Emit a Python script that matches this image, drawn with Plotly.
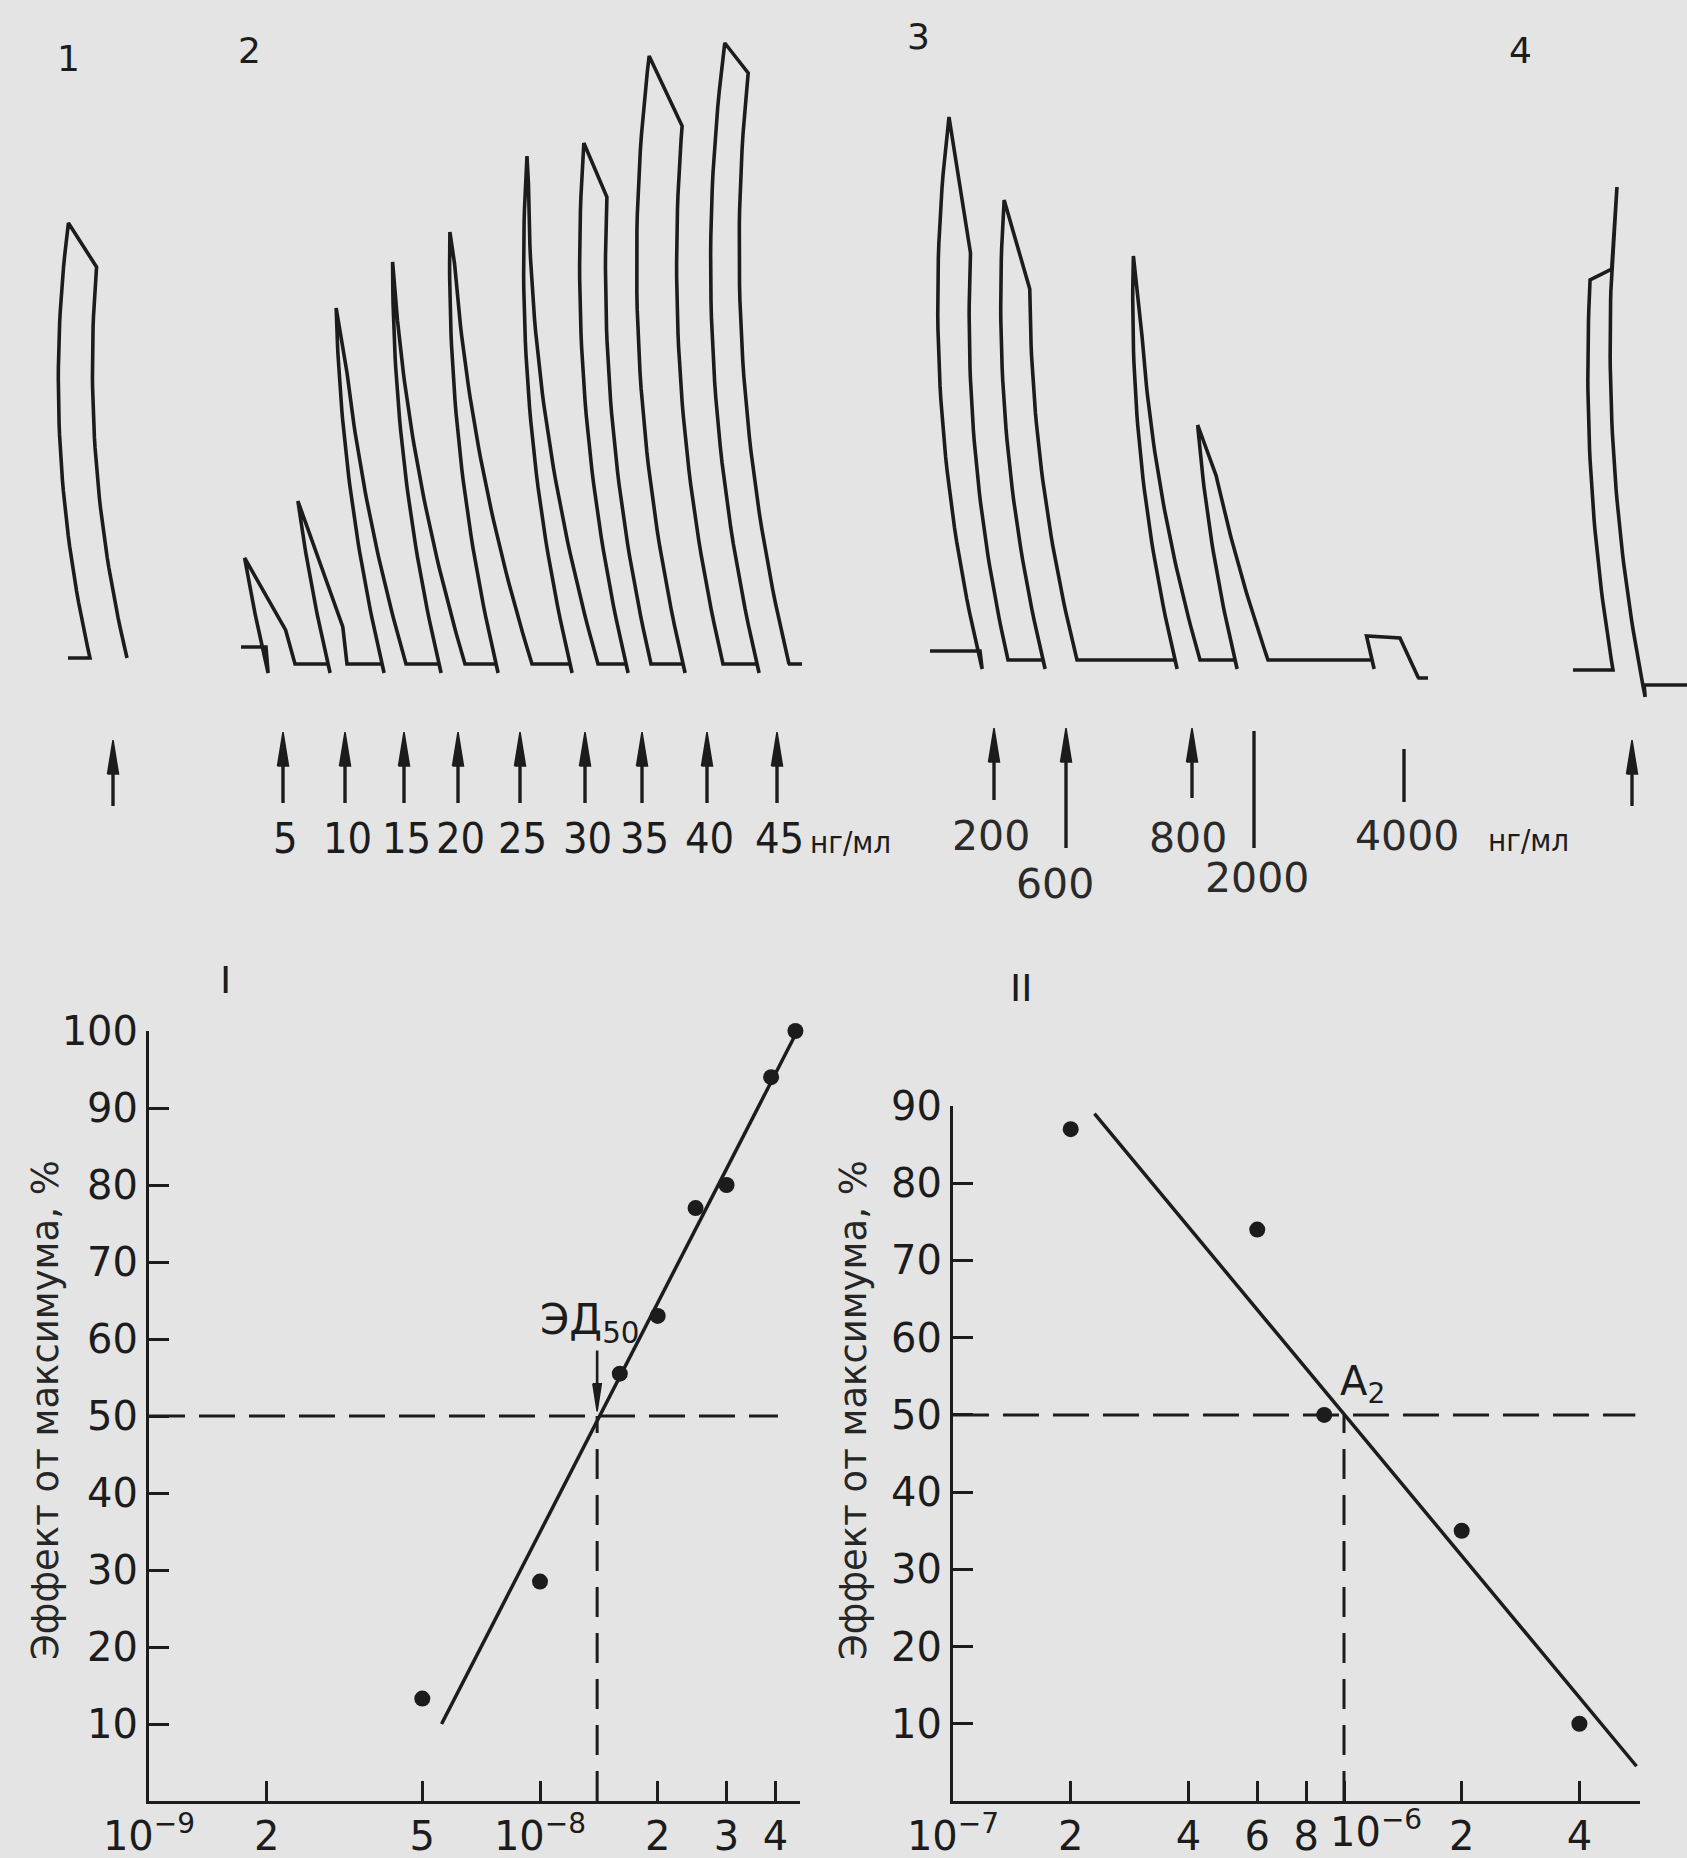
import numpy as np
import plotly.graph_objects as go

W, H = 1687, 1858
BG = "#e4e4e4"
INK = "#1c1c1c"

# ---------------- DATA ----------------
# Kymogram records (drum position / pen deflection, arbitrary drum units)
# series 1 (control)
s1_start = [90]
s1_rise = [435]
s1_shoulder = [391]
s1_spike = [None]
s1_wtop = [33]
s1_width = [37]
s1_inject = [113]

# series 2 : agonist 5..45 ng/ml
s2_doses = [5, 10, 15, 20, 25, 30, 35, 40, 45]
s2_start = [266, 328, 382, 439, 496, 570, 626, 683, 757]
s2_rise = [106, 163, 356, 402, 432, 508, 521, 608, 621]
s2_shoulder = [37, 37, 291, 343, 400, 480, 467, 538, 591]
s2_spike = [None] * 9
s2_wtop = [27, 23, 8, 4, 5, 3, 26, 40, 27]
s2_width = [29, 19, 24, 26, 36, 28, 25, 40, 32]
s2_inject = [283, 345, 404, 458, 520, 585, 642, 707, 777]

# series 3 : antagonist 200..4000 ng/ml
s3_doses = [200, 600, 800, 2000, 4000]
s3_start = [980, 1043, 1175, 1235, 1372]
s3_rise = [543, 460, 404, 235, 24]
s3_shoulder = [407, 371, 323, 189, 22]
s3_spike = [None] * 5
s3_wtop = [32, 29, 9, 13, 33]
s3_width = [28, 34, 25, 33, 38]
s3_inject = [994, 1066, 1192, 1254, 1404]

# series 4 (control after washing)
s4_start = [1613]
s4_rise = [390]
s4_shoulder = [401]
s4_spike = [483]
s4_wtop = [21]
s4_width = [27]
s4_inject = [1632]

# Panel I : dose-effect curve
I_conc = [5e-9, 1.0e-8, 1.6e-8, 2.0e-8, 2.5e-8, 3.0e-8, 3.9e-8, 4.5e-8]
I_eff = [13.3, 28.5, 55.5, 63, 77, 80, 94, 100]
I_fit_x = [5.6e-9, 4.55e-8]
I_fit_y = [10, 100]
ED50 = 1.4e-8
I_xticks = [1e-9, 2e-9, 5e-9, 1e-8, 2e-8, 3e-8, 4e-8]
I_xtext = ["10<sup>−9</sup>", "2", "5", "10<sup>−8</sup>", "2", "3", "4"]
I_yticks = [10, 20, 30, 40, 50, 60, 70, 80, 90, 100]

# Panel II : antagonist curve
II_conc = [2e-7, 6e-7, 8.9e-7, 2e-6, 4e-6]
II_eff = [87, 74, 50, 35, 10]
II_fit_x = [2.3e-7, 5.6e-6]
II_fit_y = [89, 4.5]
A2 = 1.0e-6
II_xticks = [1e-7, 2e-7, 4e-7, 6e-7, 8e-7, 1e-6, 2e-6, 4e-6]
II_xtext = ["10<sup>−7</sup>", "2", "4", "6", "8", " ", "2", "4"]
II_decade_label = "10<sup>−6</sup>"   # drawn just right of its tick (as in the original)
II_yticks = [10, 20, 30, 40, 50, 60, 70, 80, 90]

YTITLE = "Эффект от максимума, %"

# ---------------- helpers ----------------
def pen_dx(h, k, hc):
    return k * h * (h - 2 * hc)


def series_path(starts, rises, shoulders, spikes, wtops, widths, k, hc, y0,
                tick, lead_x, lead_h, tail_x, tail_dip, tail_h):
    xs, ys = [lead_x], [y0 - lead_h]
    n = len(starts)
    for i in range(n):
        x0 = starts[i]
        R, S, P, wt, wb = rises[i], shoulders[i], spikes[i], wtops[i], widths[i]
        lvl = lead_h if i == 0 else 0
        xs.append(x0); ys.append(y0 - lvl)
        hh = np.linspace(-tick, R, 40)
        xs += list(x0 + pen_dx(hh, k, hc)); ys += list(y0 - hh)

        def fall_x(h):
            off = wb + (wt - wb) * (np.asarray(h) / S)
            return x0 + off + pen_dx(np.asarray(h), k, hc)

        xs.append(float(fall_x(S))); ys.append(y0 - S)
        if P is not None:
            xs += [float(fall_x(P)), float(fall_x(S))]
            ys += [y0 - P, y0 - S]
        end_h = tail_dip if (i == n - 1 and tail_dip is not None) else 0
        hh = np.linspace(S, end_h, 40)
        xs += list(fall_x(hh)); ys += list(y0 - hh)
    if tail_x is not None:
        xe = xs[-1]
        xs += [xe - 1, tail_x]; ys += [y0 - tail_h, y0 - tail_h]
    return xs, ys


fig = go.Figure()

# ---- kymogram (canvas axes x / y) ----
series = [
    (s1_start, s1_rise, s1_shoulder, s1_spike, s1_wtop, s1_width, 4.1e-4, 278, 658, 0, 68, 0, None, None, 0),
    (s2_start, s2_rise, s2_shoulder, s2_spike, s2_wtop, s2_width, 2.9e-4, 400, 664, 9, 241, 17, 802, None, 0),
    (s3_start, s3_rise, s3_shoulder, s3_spike, s3_wtop, s3_width, 3.3e-4, 358, 660, 9, 930, 9, 1428, -18, -18),
    (s4_start, s4_rise, s4_shoulder, s4_spike, s4_wtop, s4_width, 2.8e-4, 300, 670, 0, 1573, 0, 1687, -27, -15),
]
for s in series:
    xs, ys = series_path(*s)
    fig.add_trace(go.Scatter(x=xs, y=ys, mode="lines", xaxis="x", yaxis="y",
                             line=dict(color=INK, width=3.6), hoverinfo="skip",
                             showlegend=False))

# injection markers (arrows)
arrows = []  # (x, top, bottom, head)
for xi in s1_inject:
    arrows.append((xi, 740, 806, True))
for xi in s2_inject:
    arrows.append((xi, 732, 803, True))
s3_top = [728, 728, 728, 731, 749]
s3_bot = [800, 848, 798, 848, 802]
s3_head = [True, True, True, False, False]
for xi, t, b, hd in zip(s3_inject, s3_top, s3_bot, s3_head):
    arrows.append((xi, t, b, hd))
for xi in s4_inject:
    arrows.append((xi, 740, 806, True))

lx, ly = [], []
hx, hy = [], []
for xi, t, b, hd in arrows:
    lx += [xi, xi, None]; ly += [t + (10 if hd else 0), b, None]
    if hd:
        hx += [xi - 5.5, xi, xi + 5.5, xi - 5.5, None]
        hy += [t + 34, t, t + 34, t + 34, None]
fig.add_trace(go.Scatter(x=lx, y=ly, mode="lines", xaxis="x", yaxis="y",
                         line=dict(color=INK, width=3.4), hoverinfo="skip", showlegend=False))
fig.add_trace(go.Scatter(x=hx, y=hy, mode="lines", xaxis="x", yaxis="y", fill="toself",
                         fillcolor=INK, line=dict(color=INK, width=1.5),
                         hoverinfo="skip", showlegend=False))

ann = []
NARROW = "Liberation Sans Narrow, DejaVu Sans Condensed, Liberation Sans, sans-serif"
for d, xi in zip(s2_doses, s2_inject):
    ann.append(dict(x=xi + 2, y=838, xref="x", yref="y", text=str(d), showarrow=False,
                    font=dict(family=NARROW, size=43, color=INK)))
ann.append(dict(x=850, y=842, xref="x", yref="y", text="нг/мл", showarrow=False,
                font=dict(family=NARROW, size=31, color=INK)))
s3_row = [836, 884, 838, 878, 836]
s3_dx = [-3, -11, -4, 3, 3]
for d, xi, yy, dx in zip(s3_doses, s3_inject, s3_row, s3_dx):
    ann.append(dict(x=xi + dx, y=yy, xref="x", yref="y", text=str(d), showarrow=False,
                    font=dict(family="DejaVu Sans", size=41, color="#2a2a2a")))
ann.append(dict(x=1528, y=840, xref="x", yref="y", text="нг/мл", showarrow=False,
                font=dict(family=NARROW, size=31, color=INK)))
for t, (xx, yy) in zip(["1", "2", "3", "4"], [(68, 58), (249, 50), (918, 36), (1520, 50)]):
    ann.append(dict(x=xx, y=yy, xref="x", yref="y", text=t, showarrow=False,
                    font=dict(family="DejaVu Sans", size=36, color=INK)))

# ---- Panel I ----
fig.add_trace(go.Scatter(x=[1e-9, 4.06e-8], y=[50, 50], mode="lines", xaxis="x2", yaxis="y2",
                         line=dict(color=INK, width=3, dash="36px,14px"), showlegend=False,
                         hoverinfo="skip"))
fig.add_trace(go.Scatter(x=[ED50, ED50], y=[0, 50], mode="lines", xaxis="x2", yaxis="y2",
                         line=dict(color=INK, width=3, dash="30px,16px"), showlegend=False,
                         hoverinfo="skip"))
fig.add_trace(go.Scatter(x=I_fit_x, y=I_fit_y, mode="lines", xaxis="x2", yaxis="y2",
                         line=dict(color=INK, width=3.5), showlegend=False, hoverinfo="skip"))
fig.add_trace(go.Scatter(x=I_conc, y=I_eff, mode="markers", xaxis="x2", yaxis="y2",
                         marker=dict(color=INK, size=16), cliponaxis=False, showlegend=False))
# ED50 pointer arrow (shaft + head, in data units of panel I)
fig.add_trace(go.Scatter(x=[ED50, ED50], y=[58.5, 53], mode="lines", xaxis="x2", yaxis="y2",
                         line=dict(color=INK, width=2.6), showlegend=False, hoverinfo="skip"))
fig.add_trace(go.Scatter(x=[ED50 * 0.975, ED50, ED50 * 1.025, ED50 * 0.975],
                         y=[54.2, 50.6, 54.2, 54.2], mode="lines", fill="toself",
                         fillcolor=INK, xaxis="x2", yaxis="y2",
                         line=dict(color=INK, width=1.5), showlegend=False, hoverinfo="skip"))

# ---- Panel II ----
fig.add_trace(go.Scatter(x=[1e-7, 5.56e-6], y=[50, 50], mode="lines", xaxis="x3", yaxis="y3",
                         line=dict(color=INK, width=3, dash="36px,14px"), showlegend=False,
                         hoverinfo="skip"))
fig.add_trace(go.Scatter(x=[A2, A2], y=[0, 50], mode="lines", xaxis="x3", yaxis="y3",
                         line=dict(color=INK, width=3, dash="30px,16px"), showlegend=False,
                         hoverinfo="skip"))
fig.add_trace(go.Scatter(x=II_fit_x, y=II_fit_y, mode="lines", xaxis="x3", yaxis="y3",
                         line=dict(color=INK, width=3.5), showlegend=False, hoverinfo="skip"))
fig.add_trace(go.Scatter(x=II_conc, y=II_eff, mode="markers", xaxis="x3", yaxis="y3",
                         marker=dict(color=INK, size=16), cliponaxis=False, showlegend=False))

TICKFONT = dict(family="DejaVu Sans", size=40, color=INK)

# the 10^-6 decade label sits just to the right of its tick
ann.append(dict(x=np.log10(1e-6), y=1829, xref="x3", yref="y", text=II_decade_label,
                xanchor="left", yanchor="middle", xshift=-15, borderpad=0,
                showarrow=False, font=TICKFONT))

# annotations in panels
ann.append(dict(x=590, y=1322, xref="x", yref="y", text="ЭД<sub>50</sub>", showarrow=False,
                font=dict(family="DejaVu Sans", size=42, color=INK)))
ann.append(dict(x=1362, y=1384, xref="x", yref="y", text="A<sub>2</sub>", showarrow=False,
                font=dict(family="DejaVu Sans", size=40, color=INK)))
ann.append(dict(x=225, y=980, xref="x", yref="y", text="I", showarrow=False,
                font=dict(family="DejaVu Sans", size=38, color=INK)))
ann.append(dict(x=1021, y=988, xref="x", yref="y", text="II", showarrow=False,
                font=dict(family="DejaVu Sans", size=38, color=INK)))
for xx in [45, 853]:
    ann.append(dict(x=xx, y=1410, xref="x", yref="y", text=YTITLE, textangle=-90,
                    showarrow=False, font=dict(family="DejaVu Sans", size=37, color="#262626")))


def px_y(p):
    return (H - p) / H


axis_common = dict(showgrid=False, zeroline=False, showline=True, linecolor=INK, linewidth=3,
                   ticks="inside", ticklen=20, tickwidth=3, tickcolor=INK, tickfont=TICKFONT,
                   automargin=False, fixedrange=True)

fig.update_layout(
    width=W, height=H, margin=dict(l=0, r=0, t=0, b=0, pad=0, autoexpand=False),
    paper_bgcolor=BG, plot_bgcolor=BG, showlegend=False,
    font=dict(family="DejaVu Sans", color=INK),
    xaxis=dict(domain=[0, 1], range=[0, W], visible=False, fixedrange=True, automargin=False),
    yaxis=dict(domain=[0, 1], range=[H, 0], visible=False, fixedrange=True, automargin=False),
    xaxis2=dict(axis_common, type="log", domain=[149 / W, 800 / W],
                range=[-9, -9 + (800 - 149) / 391], anchor="y2", tickmode="array",
                tickvals=I_xticks, ticktext=I_xtext, ticklabelstandoff=-2, tickangle=0),
    yaxis2=dict(axis_common, domain=[px_y(1801), px_y(1031)], range=[0, 100], anchor="x2",
                tickmode="array", tickvals=I_yticks, ticklabelstandoff=0),
    xaxis3=dict(axis_common, type="log", domain=[953 / W, 1640 / W],
                range=[-7, -7 + (1640 - 953) / 391], anchor="y3", tickmode="array",
                tickvals=II_xticks, ticktext=II_xtext, ticklabelstandoff=-2, tickangle=0),
    yaxis3=dict(axis_common, domain=[px_y(1801), px_y(1106)], range=[0, 90], anchor="x3",
                tickmode="array", tickvals=II_yticks, ticklabelstandoff=0),
    annotations=ann,
)

fig.write_html(
    "out.html",
    config={"displayModeBar": False, "staticPlot": True},
    post_script="document.body.style.margin='0';document.body.style.background='" + BG + "';",
)
